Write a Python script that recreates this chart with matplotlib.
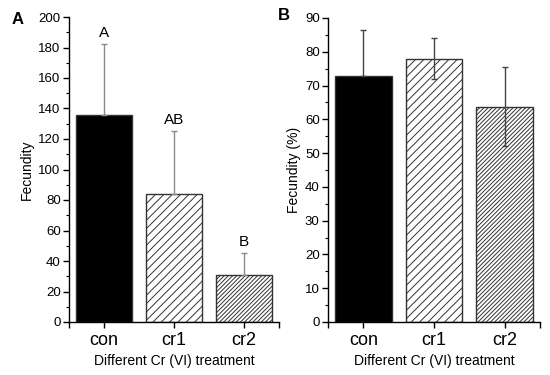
import matplotlib
matplotlib.use("Agg")
import matplotlib.pyplot as plt

plt.rcParams['font.family'] = ['Liberation Sans', 'DejaVu Sans']
plt.rcParams['hatch.linewidth'] = 0.7

categories = ["con", "cr1", "cr2"]
fec_mean = [136, 84, 31]
fec_err = [46, 41, 14]
fec_letters = ["A", "AB", "B"]
pct_mean = [72.7, 78.0, 63.7]
pct_err = [13.8, 6.0, 11.7]

fig = plt.figure(figsize=(5.5, 3.75), dpi=100)
axA = fig.add_axes([69/550, 53/375, 210/550, 305/375])
axB = fig.add_axes([328/550, 53/375, 212/550, 304/375])

x = list(range(len(categories)))
colors = ["black", "white", "white"]
hatches = [None, "////", "////////"]

def style(ax, ymax, major, minor):
    for s in ["top", "right"]:
        ax.spines[s].set_visible(False)
    ax.set_xlim(-0.5, 2.5)
    ax.set_ylim(0, ymax)
    ax.set_yticks(range(0, ymax + 1, major))
    ax.set_yticks(range(0, ymax + 1, minor), minor=True)
    ax.set_xticks(x)
    ax.set_xticks([-0.5, 2.5], minor=True)
    ax.set_xticklabels(categories, fontsize=13)
    ax.tick_params(axis='y', labelsize=9.5, direction='out', length=4, width=1, pad=2)
    ax.tick_params(axis='y', which='minor', length=2.5, width=0.8)
    ax.tick_params(axis='x', direction='out', length=4, width=1, pad=3)
    ax.tick_params(axis='x', which='minor', length=4, width=1)
    ax.set_xlabel("Different Cr (VI) treatment", fontsize=10, labelpad=4)
    for s in ["left", "bottom"]:
        ax.spines[s].set_linewidth(1)

# Panel A
bars = axA.bar(x, fec_mean, width=0.8, color=colors, edgecolor="#333333", linewidth=1)
for b, h in zip(bars, hatches):
    if h:
        b.set_hatch(h)
axA.errorbar(x, fec_mean, yerr=[[0, 0, 0], fec_err], fmt='none', ecolor="#8a8a8a",
             elinewidth=1, capsize=2.5, capthick=1)
for xi, m, e, lab in zip(x, fec_mean, fec_err, fec_letters):
    axA.text(xi, m + e + 3, lab, ha='center', va='bottom', fontsize=11)
style(axA, 200, 20, 10)
axA.set_ylabel("Fecundity", fontsize=10, labelpad=3)
fig.text(12/550, 1 - 20/375, "A", fontsize=12, fontweight='bold', va='center')

# Panel B
bars = axB.bar(x, pct_mean, width=0.8, color=colors, edgecolor="#333333", linewidth=1)
for b, h in zip(bars, hatches):
    if h:
        b.set_hatch(h)
pct_lower = [0] + pct_err[1:]
axB.errorbar(x, pct_mean, yerr=[pct_lower, pct_err], fmt='none', ecolor="#444444",
             elinewidth=1, capsize=2.5, capthick=1)
style(axB, 90, 10, 5)
axB.set_ylabel("Fecundity (%)", fontsize=10, labelpad=3)
fig.text(278/550, 1 - 16/375, "B", fontsize=12, fontweight='bold', va='center')

fig.savefig("out.png", dpi=100)
